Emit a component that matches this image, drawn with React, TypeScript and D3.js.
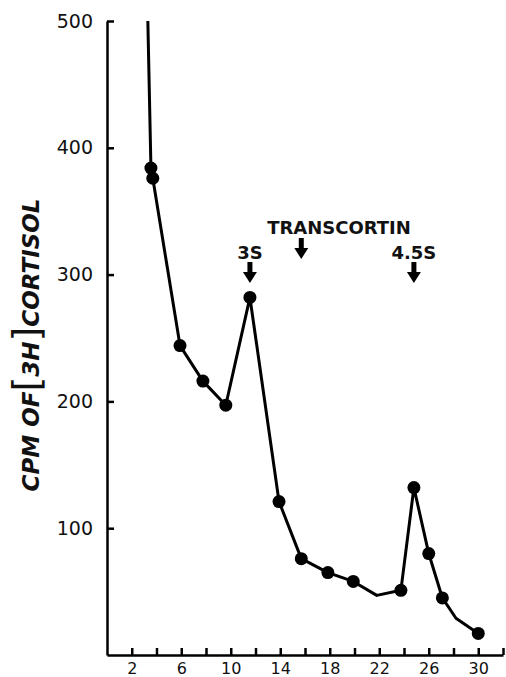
import React, { useEffect, useRef } from "react";
import * as d3 from "d3";

// fraction number vs CPM of [3H]cortisol
const dotX = [3.55, 3.7, 5.9, 7.75, 9.6, 11.55, 13.9, 15.7, 17.85, 19.9, 23.75, 24.8, 26, 27.1, 30];
const dotY = [384, 376, 244, 216, 197, 282, 121, 76, 65, 58, 51, 132, 80, 45, 17];

// line vertices (includes bends without a marker)
const lineX = [3.3, 3.55, 3.7, 5.9, 7.75, 9.6, 11.55, 13.9, 15.7, 17.85, 19.9, 21.8, 23.75, 24.8, 26, 27.1, 28.2, 30];
const lineY = [500, 384, 376, 244, 216, 197, 282, 121, 76, 65, 58, 47, 51, 132, 80, 45, 29, 17];

const xTicks = [2, 4, 6, 8, 10, 12, 14, 16, 18, 20, 22, 24, 26, 28, 30, 32];
const xTickLabels = [2, 6, 10, 14, 18, 22, 26, 30];
const yTicks = [100, 200, 300, 400, 500];

const markers = [
  { label: "3S", x: 11.55, level: 2 },
  { label: "TRANSCORTIN", x: 15.7, level: 1 },
  { label: "4.5S", x: 24.8, level: 2 },
];

const App = () => {
  const svgRef = useRef<SVGSVGElement>(null);

  useEffect(() => {
    const width = 506;
    const height = 677;
    const svg = d3.select(svgRef.current);
    svg.selectAll("*").remove();

    const x = d3.scaleLinear().domain([0, 32]).range([107, 503]);
    const y = d3.scaleLinear().domain([0, 500]).range([655, 21]);
    const font = "'DejaVu Sans', sans-serif";

    // axes
    const yAxis = svg
      .append("g")
      .attr("transform", `translate(${x(0)},0)`)
      .call(d3.axisLeft(y).tickValues(yTicks).tickSize(-7).tickPadding(14).tickSizeOuter(0));
    yAxis.select(".domain").attr("stroke-width", 2.5);
    yAxis.selectAll(".tick line").attr("stroke-width", 2.5);
    yAxis.selectAll("text").style("font-family", font).style("font-size", "19px").attr("fill", "#111");

    const xAxis = svg
      .append("g")
      .attr("transform", `translate(0,${y(0)})`)
      .call(
        d3
          .axisBottom(x)
          .tickValues(xTicks)
          .tickSize(-7)
          .tickSizeOuter(0)
          .tickPadding(8)
          .tickFormat((d) => (xTickLabels.includes(+d) ? String(d) : ""))
      );
    xAxis.select(".domain").attr("stroke-width", 2.5);
    xAxis.selectAll(".tick line").attr("stroke-width", 2.5);
    xAxis.selectAll("text").style("font-family", font).style("font-size", "16px").attr("fill", "#111");

    // y label
    const label = svg
      .append("text")
      .attr("transform", `translate(39,345) rotate(-90)`)
      .attr("text-anchor", "middle")
      .style("font-family", font)
      .style("font-weight", "bold")
      .style("font-style", "italic")
      .style("font-size", "23px")
      .attr("fill", "#111");
    label.append("tspan").text("CPM OF");
    label.append("tspan").style("font-size", "38px").style("font-style", "normal").style("font-weight", "normal").text("[");
    label.append("tspan").text("3H");
    label.append("tspan").style("font-size", "38px").style("font-style", "normal").style("font-weight", "normal").text("]");
    label.append("tspan").text("CORTISOL");

    // curve
    const pts = lineX.map((v, i) => [v, lineY[i]] as [number, number]);
    const line = d3
      .line<[number, number]>()
      .x((d) => x(d[0]))
      .y((d) => y(d[1]))
      .curve(d3.curveLinear);
    svg
      .append("path")
      .datum(pts)
      .attr("d", line)
      .attr("fill", "none")
      .attr("stroke", "#000")
      .attr("stroke-width", 3)
      .attr("stroke-linejoin", "round");

    svg
      .selectAll(".dot")
      .data(dotX.map((v, i) => [v, dotY[i]]))
      .enter()
      .append("circle")
      .attr("class", "dot")
      .attr("cx", (d) => x(d[0]))
      .attr("cy", (d) => y(d[1]))
      .attr("r", 6.5)
      .attr("fill", "#000");

    // annotations with arrows
    markers.forEach((m) => {
      const cx = x(m.x);
      const textY = m.level === 1 ? 234 : 259;
      const arrowTop = m.level === 1 ? 238 : 262;
      svg
        .append("text")
        .attr("x", m.level === 1 ? 339 : cx)
        .attr("y", textY)
        .attr("text-anchor", "middle")
        .style("font-family", font)
        .style("font-weight", "bold")
        .style("font-size", "18px")
        .attr("fill", "#111")
        .text(m.label);
      const a = d3.path();
      a.moveTo(cx - 2.5, arrowTop);
      a.lineTo(cx + 2.5, arrowTop);
      a.lineTo(cx + 2.5, arrowTop + 10);
      a.lineTo(cx + 7, arrowTop + 10);
      a.lineTo(cx, arrowTop + 21);
      a.lineTo(cx - 7, arrowTop + 10);
      a.lineTo(cx - 2.5, arrowTop + 10);
      a.closePath();
      svg.append("path").attr("d", a.toString()).attr("fill", "#000");
    });

    svg.attr("width", width).attr("height", height);
  }, []);

  return (
    <svg
      ref={svgRef}
      width={506}
      height={677}
      style={{ position: "absolute", left: 0, top: 0, background: "#fff" }}
    />
  );
};

export default App;
